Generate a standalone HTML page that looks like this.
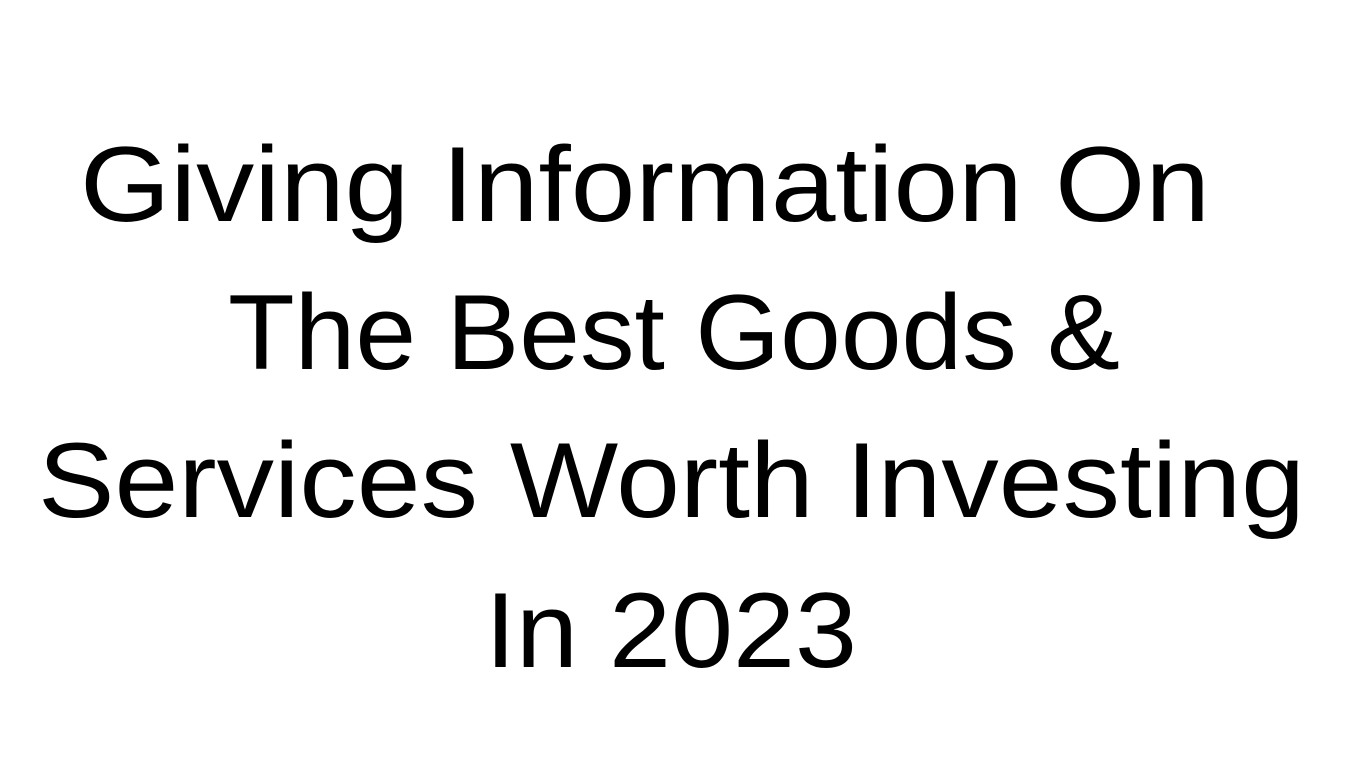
<!DOCTYPE html>
<html>
<head>
<meta charset="utf-8">
<style>
  html,body{margin:0;padding:0;background:#fff;}
  body{width:1366px;height:768px;position:relative;overflow:hidden;}
  .ln{position:absolute;font-family:"Liberation Sans",sans-serif;font-size:107px;line-height:1;color:#000;white-space:nowrap;transform-origin:0 0;}
</style>
</head>
<body>
<div class="ln" id="l1" data-w="1130" style="left:80px;top:131px;">Giving Information On</div>
<div class="ln" id="l2" data-w="892" style="left:228px;top:279px;">The Best Goods &amp;</div>
<div class="ln" id="l3" data-w="1267" style="left:38px;top:427px;">Services Worth Investing</div>
<div class="ln" id="l4" data-w="372" style="left:485px;top:577px;">In 2023</div>
<script>
document.querySelectorAll('.ln').forEach(function(el){
  var target=parseFloat(el.getAttribute('data-w'));
  var w=el.getBoundingClientRect().width;
  if(w>0){el.style.transform='scaleX('+(target/w)+')';}
});
</script>
</body>
</html>
